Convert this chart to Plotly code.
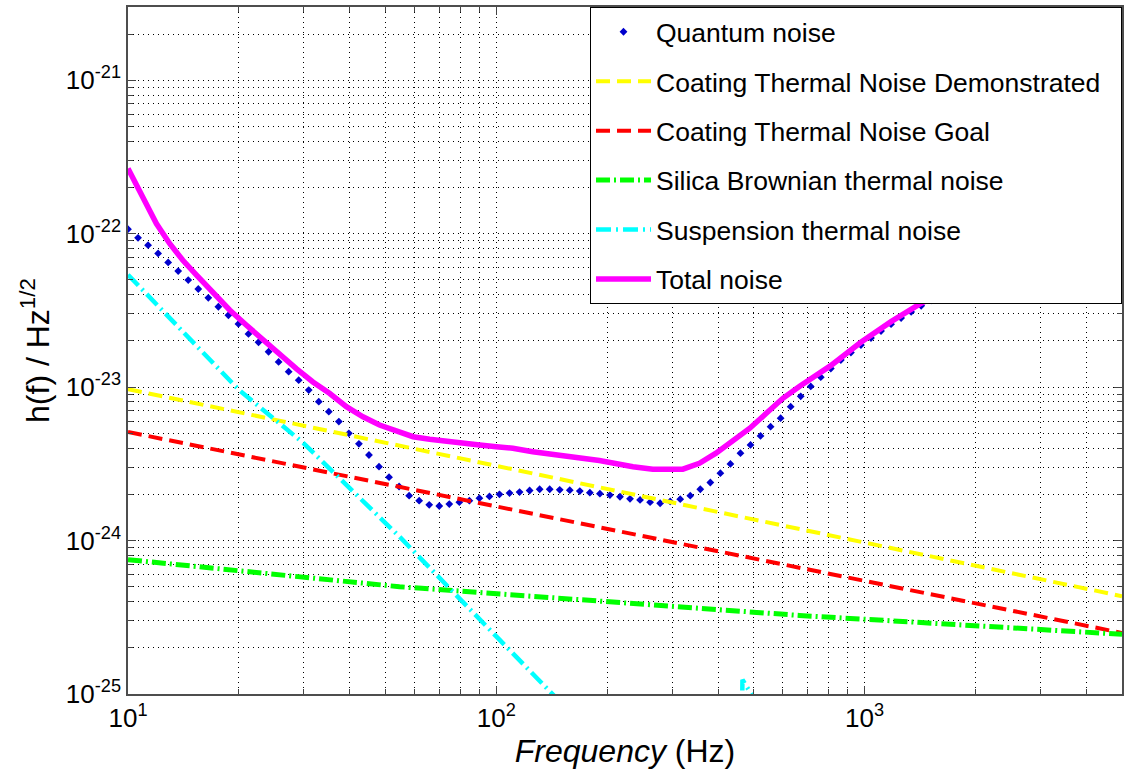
import numpy as np
import plotly.graph_objects as go

FONT = "Liberation Sans, Arial, Helvetica, sans-serif"

# ---------------- data ----------------
# Quantum noise: 100 log-spaced frequency samples from 10 Hz to 5 kHz
QN_F_START, QN_F_STOP, QN_N = 10.0, 5000.0, 100
quantum_vals_e24 = [
    106.9, 93.98, 84.1, 74.3, 64.9, 57.0, 49.8, 43.6, 38.2, 33.4,
    29.4, 25.8, 22.2, 19.6, 17.0, 14.6, 12.6, 11.1, 9.57, 8.04,
    6.92, 5.96, 5.00, 4.27, 3.61, 3.03, 2.59, 2.25, 1.96, 1.82,
    1.71, 1.68, 1.73, 1.78, 1.82, 1.89, 1.94, 2.00, 2.04, 2.07,
    2.12, 2.16, 2.16, 2.14, 2.13, 2.10, 2.05, 2.02, 1.98, 1.93,
    1.87, 1.84, 1.78, 1.75, 1.80, 1.86, 1.96, 2.16, 2.39, 2.75,
    3.16, 3.71, 4.20, 4.81, 5.52, 6.27, 7.45, 8.71, 10.1, 11.6,
    13.2, 15.0, 16.8, 18.8, 20.9, 23.2, 25.7, 28.2, 30.9, 33.9,
    36.7, 39.8, 43.2, 46.8, 50.7, 55.0, 58.9, 63.1, 67.6, 72.4,
    77.6, 83.2, 89.1, 95.5, 102.3, 109.6, 116.1, 123.0, 130.3, 138.0,
]

ctn_demo_f = [10, 5000]
ctn_demo_e24 = [9.7, 0.434]

ctn_goal_f = [10, 5000]
ctn_goal_e24 = [5.1, 0.25]

silica_f = [10, 54.6, 665, 5000]
silica_e24 = [0.75, 0.50, 0.325, 0.245]

susp_f = [10, 20, 30, 54.6, 102, 141, 200, 455, 466, 492, 505, 5000]
susp_e24 = [54.0, 9.6, 4.3, 1.06, 0.226, 0.10, 0.043, 0.001, 0.124, 0.10, 0.001, 0.0001]

total_f = [10, 11.0, 11.94, 12.97, 14.09, 15.35, 17.02, 18.88, 20.94, 23.23,
           25.82, 28.64, 31.77, 35.24, 39.17, 43.45, 48.19, 53.58, 59.43, 65.92,
           73.11, 81.10, 90.16, 100, 110.9, 125.6, 154.9, 190.5, 235, 266,
           321, 356, 395, 439, 488, 541, 600, 665, 809, 977,
           1180, 1425, 1721, 2078, 2510, 3030, 3659, 4418]
total_e24 = [265.5, 173.8, 116.4, 86.3, 67.1, 53.7, 40.8, 31.8, 25.4, 20.3,
             16.2, 13.2, 10.8, 9.12, 7.45, 6.41, 5.66, 5.13, 4.75, 4.57,
             4.42, 4.31, 4.20, 4.09, 4.00, 3.79, 3.56, 3.32, 3.03, 2.92,
             2.92, 3.19, 3.71, 4.42, 5.40, 6.75, 8.45, 10.1, 13.8, 19.6,
             26.7, 35.2, 44.9, 57.2, 70.3, 86.5, 106.0, 128.0]

legend_names = ["Quantum noise", "Coating Thermal Noise Demonstrated",
                "Coating Thermal Noise Goal", "Silica Brownian thermal noise",
                "Suspension thermal noise", "Total noise"]

x_tick_vals = [10, 100, 1000]
x_tick_text = ["10<sup>1</sup>", "10<sup>2</sup>", "10<sup>3</sup>"]
y_tick_vals = [1e-25, 1e-24, 1e-23, 1e-22, 1e-21]
y_tick_text = ["10<sup>-25</sup>", "10<sup>-24</sup>", "10<sup>-23</sup>",
               "10<sup>-22</sup>", "10<sup>-21</sup>"]
x_minor = [20, 30, 40, 50, 60, 70, 80, 90, 200, 300, 400, 500, 600, 700, 800, 900,
           2000, 3000, 4000, 5000]
y_minor = [m * 10.0 ** e for e in range(-25, -20) for m in range(2, 10)]

X_RANGE = [10, 5000]
Y_RANGE = [1e-25, 3e-21]

# ---------------- figure ----------------
def e24(v):
    return [x * 1e-24 for x in v]

qn_f = np.logspace(np.log10(QN_F_START), np.log10(QN_F_STOP), QN_N)
PAD = "\u00a0\u00a0"  # right padding inside the legend box

fig = go.Figure()
fig.add_trace(go.Scatter(
    x=qn_f, y=e24(quantum_vals_e24), mode="markers", name=legend_names[0],
    legendgroup="q", marker=dict(symbol="diamond", size=6, color="#0000cc"),
))
fig.add_trace(go.Scatter(
    x=ctn_demo_f, y=e24(ctn_demo_e24), mode="lines",
    name=legend_names[1] + PAD, legendgroup="d",
    line=dict(color="#ffff00", width=4, dash="14px,7px"),
))
fig.add_trace(go.Scatter(
    x=ctn_goal_f, y=e24(ctn_goal_e24), mode="lines",
    name=legend_names[2], legendgroup="g",
    line=dict(color="#ff0000", width=4, dash="14px,7px"),
))
fig.add_trace(go.Scatter(
    x=silica_f, y=e24(silica_e24), mode="lines",
    name=legend_names[3], legendgroup="s",
    line=dict(color="#00ff00", width=5, dash="14px,4px,2px,4px"),
))
fig.add_trace(go.Scatter(
    x=susp_f, y=e24(susp_e24), mode="lines",
    name=legend_names[4], legendgroup="u",
    line=dict(color="#00ffff", width=4.5, dash="15px,5px,2px,5px"),
))
fig.add_trace(go.Scatter(
    x=total_f, y=e24(total_e24), mode="lines", name=legend_names[5],
    legendgroup="t", line=dict(color="#ff00ff", width=5.5),
))

grid_common = dict(gridcolor="#000000", griddash="1px,4px", gridwidth=1)

fig.update_xaxes(
    type="log", range=[np.log10(X_RANGE[0]), np.log10(X_RANGE[1])],
    tickmode="array", tickvals=x_tick_vals, ticktext=x_tick_text,
    ticks="inside", ticklen=8, tickwidth=1, tickcolor="#444444",
    showline=True, linecolor="#4d4d4d", linewidth=1.5, mirror="allticks",
    showgrid=True, **grid_common, zeroline=False,
    tickfont=dict(family=FONT, size=26, color="black"),
    minor=dict(tickmode="array", tickvals=x_minor, ticks="inside", ticklen=5,
               tickcolor="#444444", showgrid=True, **grid_common),
    title=dict(text="<i>Frequency</i> (Hz)", font=dict(family=FONT, size=32, color="black"),
               standoff=6),
    automargin=False,
)
fig.update_yaxes(
    type="log", range=[np.log10(Y_RANGE[0]), np.log10(Y_RANGE[1])],
    tickmode="array", tickvals=y_tick_vals, ticktext=y_tick_text,
    ticks="inside", ticklen=8, tickwidth=1, tickcolor="#444444",
    showline=True, linecolor="#4d4d4d", linewidth=1.5, mirror="allticks",
    showgrid=True, **grid_common, zeroline=False,
    tickfont=dict(family=FONT, size=26, color="black"),
    minor=dict(tickmode="array", tickvals=y_minor, ticks="inside", ticklen=5,
               tickcolor="#444444", showgrid=True, **grid_common),
    title=dict(text="h(f) / Hz<sup>1/2</sup>", font=dict(family=FONT, size=32, color="black"),
               standoff=7),
    automargin=False,
)

fig.update_layout(
    width=1130, height=777,
    margin=dict(l=128, r=8, t=7, b=83),
    paper_bgcolor="white", plot_bgcolor="white",
    font=dict(family=FONT, color="black"),
    showlegend=True, hovermode=False,
    legend=dict(x=1, xanchor="right", y=1, yanchor="top",
                bgcolor="white", bordercolor="black", borderwidth=1,
                font=dict(family=FONT, size=26.5, color="black"),
                itemwidth=55, tracegroupgap=12, traceorder="grouped"),
)

# remove the browser's default 8px page margin so the figure fills the window exactly
fig.write_html("out.html", config={"displayModeBar": False},
               post_script="document.body.style.margin='0';")
